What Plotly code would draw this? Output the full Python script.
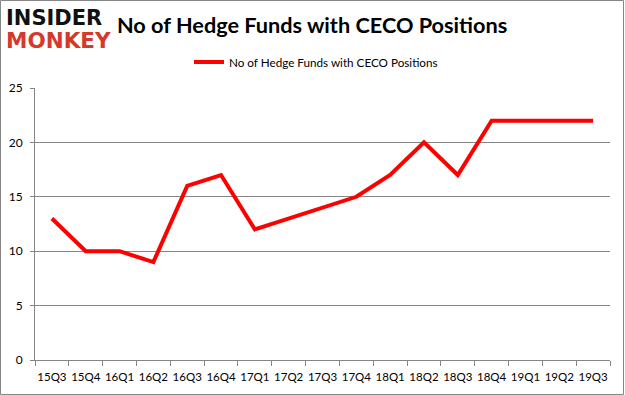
import plotly.graph_objects as go

quarters = ["15Q3","15Q4","16Q1","16Q2","16Q3","16Q4","17Q1","17Q2","17Q3","17Q4",
            "18Q1","18Q2","18Q3","18Q4","19Q1","19Q2","19Q3"]
funds = [13,10,10,9,16,17,12,13,14,15,17,20,17,22,22,22,22]
series_name = "No of Hedge Funds with CECO Positions"
y_ticks = [0,5,10,15,20,25]

W, H = 625, 395
L, R, T, B = 35, 15, 88, 35
pw, ph = W - L - R, H - T - B

fig = go.Figure()
fig.add_trace(go.Scatter(x=quarters, y=funds, mode="lines", name=series_name,
                         line=dict(color="#FF0000", width=4)))

def px_x(x):
    return (x - L) / pw
def px_y(y):
    return (H - B - y) / ph

fig.update_layout(
    width=W, height=H,
    margin=dict(l=L, r=R, t=T, b=B, autoexpand=False),
    paper_bgcolor="white", plot_bgcolor="white",
    font=dict(family="Lato, Open Sans, sans-serif", color="#000000"),
    showlegend=True,
    legend=dict(orientation="h", x=px_x(189), xanchor="left", y=px_y(62), yanchor="middle",
                font=dict(size=11.7, family="Lato, sans-serif"), itemwidth=30,
                bgcolor="rgba(0,0,0,0)"),
    xaxis=dict(type="category", showgrid=False, showline=True, linecolor="#868686",
               ticks="outside", tickson="boundaries", ticklen=5, tickcolor="#868686",
               tickangle=0, automargin=False, ticklabelstandoff=6,
               tickfont=dict(size=11.5, color="#000000"), range=[-0.5, 16.5]),
    yaxis=dict(range=[0, 25], tickvals=y_ticks, showgrid=True, gridcolor="#868686",
               gridwidth=1, showline=True, linecolor="#868686", ticks="outside",
               ticklen=4, tickcolor="#868686", zeroline=False, automargin=False,
               ticklabelstandoff=5,
               tickfont=dict(size=12, color="#000000")),
    annotations=[
        dict(text="<b>No of Hedge Funds with CECO Positions</b>", xref="paper", yref="paper",
             x=px_x(115), y=px_y(25), xanchor="left", yanchor="middle", showarrow=False,
             font=dict(size=21.7, family="Lato, sans-serif", color="#000000")),
        dict(text="<b>INSIDER</b>", xref="paper", yref="paper",
             x=px_x(4), y=px_y(18), xanchor="left", yanchor="middle", showarrow=False,
             font=dict(size=21, family="DejaVu Sans", color="#111111")),
        dict(text="<b>MONKEY</b>", xref="paper", yref="paper",
             x=px_x(4), y=px_y(41), xanchor="left", yanchor="middle", showarrow=False,
             font=dict(size=21.5, family="DejaVu Sans", color="#D33A2C")),
    ],
    shapes=[
        dict(type="rect", xref="paper", yref="paper",
             x0=px_x(0.5), x1=px_x(W - 1.5), y0=px_y(H - 0.5), y1=px_y(0.5),
             line=dict(color="#868686", width=1), fillcolor="rgba(0,0,0,0)", layer="above"),
    ],
)

fig.write_html("out.html", config={"displayModeBar": False},
               post_script="document.body.style.margin='0';document.body.style.overflow='hidden';")
